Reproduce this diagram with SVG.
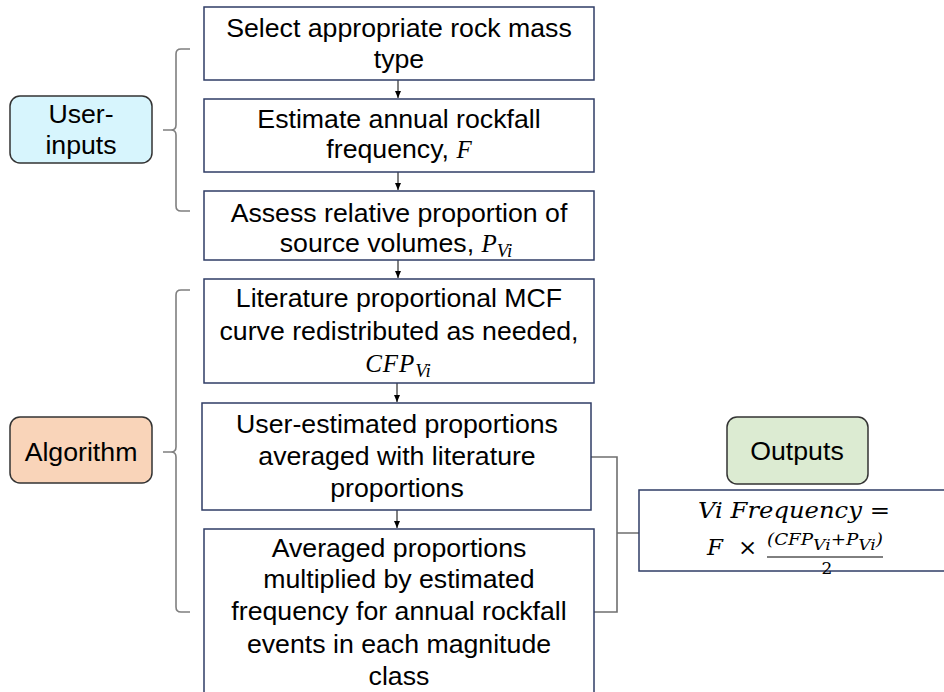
<svg xmlns="http://www.w3.org/2000/svg" width="944" height="692" viewBox="0 0 944 692">
<defs>
<marker id="ah" markerWidth="8" markerHeight="8" refX="7" refY="4" orient="auto" markerUnits="userSpaceOnUse">
<path d="M0,1 L7,4 L0,7 Z" fill="#000"/>
</marker>
<style>
.box{fill:#fff;stroke:#2f3d66;stroke-width:1.5}
.lbl{stroke:#333;stroke-width:1.5}
.t{font-family:"Liberation Sans",Arial,sans-serif;font-size:26.7px;fill:#000;text-anchor:middle}
.m{font-family:"Liberation Serif","DejaVu Serif",serif;font-style:italic}
.f{font-family:"DejaVu Serif","Liberation Serif",serif;font-style:italic}
.br{fill:none;stroke:#7f7f7f;stroke-width:1.6}
.arr{stroke:#000;stroke-width:1;fill:none;marker-end:url(#ah)}
.gl{fill:none;stroke:#6f6f6f;stroke-width:1.6}
</style>
</defs>
<rect width="944" height="692" fill="#fff"/>

<g id="connectors">
<line class="arr" x1="398" y1="80" x2="398" y2="98"/>
<line class="arr" x1="398" y1="172" x2="398" y2="190"/>
<line class="arr" x1="398" y1="260" x2="398" y2="278"/>
<line class="arr" x1="397" y1="383" x2="397" y2="402"/>
<line class="arr" x1="397" y1="510" x2="397" y2="528"/>
<path class="br" d="M190,49 H181 Q176,49 176,54 V125 Q176,130 171,130 H163 H171 Q176,130 176,135 V206 Q176,211 181,211 H190"/>
<path class="br" d="M190,290 H181 Q176,290 176,295 V447 Q176,452 171,452 H163 H171 Q176,452 176,457 V607 Q176,612 181,612 H190"/>
<path class="gl" d="M591,457 H617 V612 H594 M617,533 H639"/>
</g>

<g id="user-inputs">
<rect class="lbl" x="10" y="96" width="142" height="67" rx="10" fill="#d7f5fd"/>
<text class="t" x="81" y="123">User-</text>
<text class="t" x="81" y="154">inputs</text>
</g>

<g id="algorithm">
<rect class="lbl" x="10" y="417" width="142" height="66" rx="10" fill="#f9d4b9"/>
<text class="t" x="81" y="461">Algorithm</text>
</g>

<g id="outputs">
<rect class="lbl" x="727" y="417" width="141" height="67" rx="10" fill="#dcebd2"/>
<text class="t" x="797" y="460">Outputs</text>
</g>

<g id="box1">
<rect class="box" x="204" y="7" width="390" height="73"/>
<text class="t" x="399" y="37">Select appropriate rock mass</text>
<text class="t" x="399" y="68">type</text>
</g>

<g id="box2">
<rect class="box" x="204" y="99" width="390" height="73"/>
<text class="t" x="399" y="128">Estimate annual rockfall</text>
<text class="t" x="399" y="158">frequency, <tspan class="m" font-size="25">F</tspan></text>
</g>

<g id="box3">
<rect class="box" x="204" y="191" width="390" height="69"/>
<text class="t" x="399" y="222">Assess relative proportion of</text>
<text class="t" x="396" y="252">source volumes, <tspan class="m" font-size="25">P</tspan><tspan class="m" font-size="19" dy="5">Vi</tspan></text>
</g>

<g id="box4">
<rect class="box" x="204" y="279" width="390" height="104"/>
<text class="t" x="399" y="307">Literature proportional MCF</text>
<text class="t" x="399" y="340">curve redistributed as needed,</text>
<text class="t" x="398" y="372"><tspan class="m" font-size="25" letter-spacing="1">CFP</tspan><tspan class="m" font-size="19" dy="5">Vi</tspan></text>
</g>

<g id="box5">
<rect class="box" x="202" y="403" width="389" height="107"/>
<text class="t" x="397" y="433">User-estimated proportions</text>
<text class="t" x="397" y="465">averaged with literature</text>
<text class="t" x="397" y="497">proportions</text>
</g>

<g id="box6">
<rect class="box" x="204" y="529" width="390" height="180"/>
<text class="t" x="399" y="557">Averaged proportions</text>
<text class="t" x="399" y="588">multiplied by estimated</text>
<text class="t" x="399" y="620">frequency for annual rockfall</text>
<text class="t" x="399" y="653">events in each magnitude</text>
<text class="t" x="399" y="685">class</text>
</g>

<g id="formula">
<rect class="box" x="639" y="490" width="320" height="81"/>
<text class="f" x="698" y="518" font-size="23" textLength="192" lengthAdjust="spacingAndGlyphs">Vi Frequency =</text>
<text class="f" x="707" y="555" font-size="23">F</text>
<text font-family="DejaVu Serif,serif" x="738" y="555" font-size="23">×</text>
<text class="f" x="767" y="545" font-size="16" textLength="116" lengthAdjust="spacingAndGlyphs">(CFP<tspan font-size="15" dy="5">Vi</tspan><tspan dy="-5" font-style="normal">+</tspan>P<tspan font-size="15" dy="5">Vi</tspan><tspan dy="-5">)</tspan></text>
<line x1="767" y1="557" x2="883" y2="557" stroke="#000" stroke-width="1"/>
<text font-family="DejaVu Serif,serif" x="827" y="574" font-size="17" text-anchor="middle">2</text>
</g>
</svg>
